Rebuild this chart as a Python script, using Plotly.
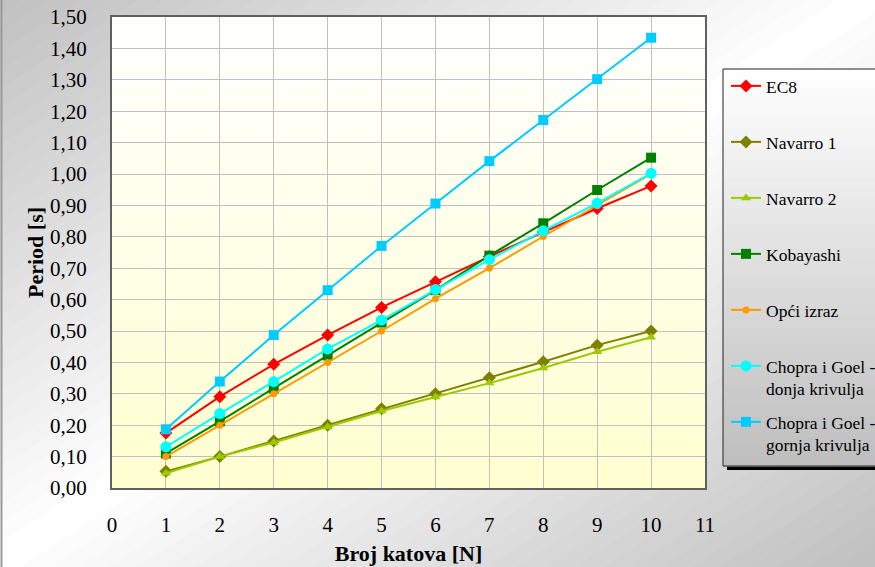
import plotly.graph_objects as go

# ---- data ----
katovi = [1, 2, 3, 4, 5, 6, 7, 8, 9, 10]
ec8 = [0.175, 0.291, 0.394, 0.487, 0.575, 0.657, 0.737, 0.815, 0.890, 0.962]
navarro1 = [0.053, 0.100, 0.150, 0.200, 0.252, 0.300, 0.351, 0.402, 0.455, 0.500]
navarro2 = [0.047, 0.100, 0.145, 0.194, 0.245, 0.290, 0.334, 0.382, 0.434, 0.480]
kobayashi = [0.110, 0.212, 0.318, 0.422, 0.527, 0.630, 0.740, 0.843, 0.949, 1.052]
opci = [0.100, 0.200, 0.300, 0.400, 0.500, 0.603, 0.700, 0.801, 0.900, 1.000]
chopra_donja = [0.131, 0.237, 0.339, 0.443, 0.535, 0.632, 0.727, 0.819, 0.907, 1.002]
chopra_gornja = [0.187, 0.339, 0.487, 0.630, 0.771, 0.906, 1.041, 1.172, 1.302, 1.434]

series_names = ["EC8", "Navarro 1", "Navarro 2", "Kobayashi", "Opći izraz",
                "Chopra i Goel -<br>donja krivulja", "Chopra i Goel -<br>gornja krivulja"]
series_values = [ec8, navarro1, navarro2, kobayashi, opci, chopra_donja, chopra_gornja]
series_colors = ["#FF0000", "#808000", "#99CC00", "#008000", "#FF9900", "#00FFFF", "#00CCFF"]
series_symbols = ["diamond", "diamond", "triangle-up", "square", "circle", "circle", "square"]
series_msize = [10, 10, 9, 10, 7, 11, 10]

W, H = 875, 567
L, R, T, B = 112, 705, 17, 488  # plot area pixel box


def px2paper(px, py):
    return (px - L) / (R - L), (B - py) / (B - T)


fig = go.Figure()

legend_centers = [87, 143, 199, 255, 311, 367, 423]
for i, (name, vals, col, sym, ms) in enumerate(zip(series_names, series_values, series_colors,
                                                    series_symbols, series_msize)):
    lg = "legend" if i == 0 else f"legend{i+1}"
    fig.add_trace(go.Scatter(
        x=katovi, y=vals, name=name, mode="lines+markers",
        line=dict(color=col, width=2),
        marker=dict(symbol=sym, size=ms, color=col),
        legend=lg,
    ))

shapes = []
# paper diagonal gradient
N = 60
for k in range(N):
    c1 = 2 * k / N - 0.01
    c2 = 2 * (k + 1) / N + 0.01
    t = (k + 0.5) / N
    g = int(round(255 - (255 - 192) * abs(2 * t - 1)))
    pts = []
    for (c, pxx) in [(c1, -100), (c1, 975), (c2, 975), (c2, -100)]:
        pyy = 567 * (c - pxx / 875)
        pts.append(px2paper(pxx, pyy))
    path = "M " + " L ".join(f"{a:.5f},{b:.5f}" for a, b in pts) + " Z"
    shapes.append(dict(type="path", path=path, xref="paper", yref="paper", layer="below",
                       fillcolor=f"rgb({g},{g},{g})", line=dict(width=0)))
# chart-area left edge line
x0, _ = px2paper(1.5, 0)
shapes.append(dict(type="line", xref="paper", yref="paper", x0=x0, x1=x0, y0=px2paper(0, 567)[1],
                   y1=px2paper(0, 0)[1], line=dict(color="#9a9a9a", width=2), layer="below"))

# plot area gradient white -> light yellow
NB = 40
for k in range(NB):
    y0 = 1 - (k + 1) / NB
    y1 = 1 - k / NB + 0.002
    f = (k + 0.5) / NB
    b = int(round(255 - (255 - 208) * f))
    shapes.append(dict(type="rect", xref="x domain", yref="y domain", x0=0, x1=1, y0=y0, y1=y1,
                       fillcolor=f"rgb(255,255,{b})", line=dict(width=0), layer="below"))

# legend box: shadow, gradient, border
lx0, ly0 = 723, 69
lx1, ly1 = 880, 466
a0, b0 = px2paper(lx0 + 4, ly0 + 4)
a1, b1 = px2paper(lx1 + 4, ly1 + 4)
shapes.append(dict(type="rect", xref="paper", yref="paper", x0=a0, x1=a1, y0=b1, y1=b0,
                   fillcolor="black", line=dict(width=0), layer="below"))
NL = 40
for k in range(NL):
    py0 = ly0 + (ly1 - ly0) * k / NL
    py1 = ly0 + (ly1 - ly0) * (k + 1) / NL + 0.8
    f = (k + 0.5) / NL
    g = int(round(255 - (255 - 190) * f))
    a0, b0 = px2paper(lx0, py0)
    a1, b1 = px2paper(lx1, py1)
    shapes.append(dict(type="rect", xref="paper", yref="paper", x0=a0, x1=a1, y0=b1, y1=b0,
                       fillcolor=f"rgb({g},{g},{g})", line=dict(width=0), layer="below"))
a0, b0 = px2paper(lx0, ly0)
a1, b1 = px2paper(lx1, ly1)
shapes.append(dict(type="rect", xref="paper", yref="paper", x0=a0, x1=a1, y0=b1, y1=b0,
                   fillcolor="rgba(0,0,0,0)", line=dict(color="#222", width=1), layer="below"))

serif = "Liberation Serif, Times New Roman, serif"
legend_font = dict(family=serif, size=17.5, color="black")
legend_layout = {}
for i, cy in enumerate(legend_centers):
    key = "legend" if i == 0 else f"legend{i+1}"
    lx, ly = px2paper(726, cy - 19)
    legend_layout[key] = dict(x=lx, y=ly, xanchor="left", yanchor="top", bgcolor="rgba(0,0,0,0)",
                              borderwidth=0, font=legend_font, valign="top",
                              itemwidth=30, tracegroupgap=0)

tick_font = dict(family=serif, size=21, color="black")
title_font = dict(family=serif, size=22, color="black")

fig.update_layout(
    width=W, height=H,
    margin=dict(l=L, r=W - R, t=T, b=H - B, autoexpand=False),
    paper_bgcolor="white", plot_bgcolor="rgba(0,0,0,0)",
    separators=",.",
    showlegend=True,
    shapes=shapes,
    xaxis=dict(range=[0, 11], dtick=1, tick0=0, showgrid=True, gridcolor="#C0C0C0", gridwidth=1,
               zeroline=False, showline=True, mirror=True, linecolor="#606060", linewidth=2,
               tickfont=tick_font, ticklabelstandoff=17, automargin=False,
               title=dict(text="<b>Broj katova [N]</b>", font=title_font, standoff=9)),
    yaxis=dict(range=[0, 1.5], dtick=0.1, tick0=0, tickformat=".2f", showgrid=True,
               gridcolor="#C0C0C0", gridwidth=1, zeroline=False, showline=True, mirror=True,
               linecolor="#606060", linewidth=2, tickfont=tick_font, ticklabelstandoff=19,
               automargin=False,
               title=dict(text="<b>Period [s]</b>", font=title_font, standoff=0)),
    **legend_layout,
)

fig.write_html("out.html", config={"displayModeBar": False},
               post_script="document.body.style.margin='0';document.body.style.overflow='hidden';")
